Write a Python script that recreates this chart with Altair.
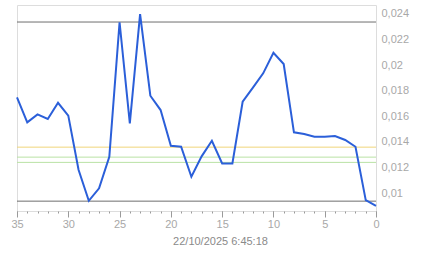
import altair as alt
import pandas as pd

x_vals = list(range(35, -1, -1))
y_vals = [0.01748, 0.01553, 0.01615, 0.01579, 0.01706, 0.01605, 0.01182, 0.0094,
          0.01037, 0.01284, 0.02335, 0.01545, 0.02398, 0.01761, 0.01649, 0.0137,
          0.01362, 0.01128, 0.01287, 0.01409, 0.01232, 0.01232, 0.01714, 0.01824,
          0.01936, 0.02097, 0.02009, 0.01475, 0.01461, 0.0144, 0.0144, 0.01446,
          0.01415, 0.01362, 0.00945, 0.00901]

ref_values = [0.02337, 0.00937, 0.01359, 0.01281, 0.0124]
ref_kinds = ["limit", "limit", "warn", "ok", "ok"]
ref_colors = {"limit": "#6e6e6e", "warn": "#f0d67a", "ok": "#b9e2a4"}

y_ticks = [0.01, 0.012, 0.014, 0.016, 0.018, 0.02, 0.022, 0.024]
x_major = [35, 30, 25, 20, 15, 10, 5, 0]
x_minor = list(range(0, 36))
title_text = "22/10/2025 6:45:18"

df = pd.DataFrame({"x": x_vals, "y": y_vals})
refs = pd.DataFrame({"y": ref_values, "kind": ref_kinds})

xscale = alt.Scale(domain=[0, 35], reverse=True, nice=False, zero=False)
yscale = alt.Scale(domain=[0.0086, 0.0247], nice=False, zero=False)

yaxis = alt.Axis(orient="right", values=y_ticks, format=".3~f", ticks=False,
                 domain=False, grid=False, labelColor="#a8a8a8",
                 labelFontSize=11, labelFont="Liberation Sans",
                 labelPadding=5, title=None)

rules = alt.Chart(refs).mark_rule(strokeWidth=1).encode(
    y=alt.Y("y:Q", scale=yscale, axis=yaxis),
    color=alt.Color("kind:N", scale=alt.Scale(domain=list(ref_colors.keys()),
                                              range=list(ref_colors.values())),
                    legend=None),
)

minor = alt.Chart(df).mark_line(opacity=0).encode(
    x=alt.X("x:Q", scale=xscale,
            axis=alt.Axis(orient="bottom", values=x_minor, labels=False, tickSize=2,
                          domain=False, grid=False, tickColor="#9a9a9a", title=None)),
    y=alt.Y("y:Q", scale=yscale, axis=yaxis),
)

line = alt.Chart(df).mark_line(color="#2b5fd9", strokeWidth=2).encode(
    x=alt.X("x:Q", scale=xscale,
            axis=alt.Axis(orient="bottom", values=x_major, tickSize=6, domain=False,
                          grid=False, tickColor="#9a9a9a", labelColor="#a8a8a8",
                          labelFontSize=11, labelFont="Liberation Sans", labelPadding=1,
                          labelFlush=False,
                          title=title_text, titleColor="#8a8a8a", titleFontSize=11,
                          titleFont="Liberation Sans", titleFontWeight="normal",
                          titleX=203, titleAlign="center", titlePadding=6)),
    y=alt.Y("y:Q", scale=yscale, axis=yaxis),
)

chart = alt.layer(rules, minor, line).resolve_axis(x="independent").properties(
    width=359, height=206,
    autosize=alt.AutoSizeParams(type="none"),
    padding={"left": 17, "top": 5, "right": 67, "bottom": 47},
).configure_view(stroke=None).configure(
    locale={"number": {"decimal": ",", "thousands": ".", "grouping": [3],
                       "currency": ["", "€"]}}
)

chart.save("out.html", embed_options={"renderer": "svg", "actions": False})
